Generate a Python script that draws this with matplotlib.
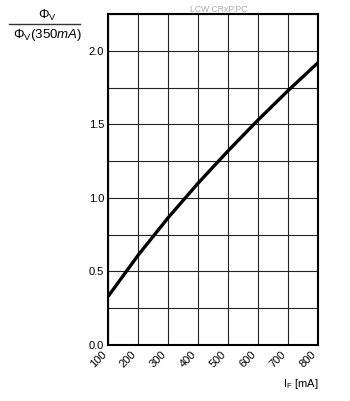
import matplotlib
matplotlib.use("Agg")
import matplotlib.pyplot as plt
import numpy as np

plt.rcParams['font.family'] = ['Liberation Sans', 'DejaVu Sans']
plt.rcParams['mathtext.fontset'] = 'custom'
plt.rcParams['mathtext.rm'] = 'Liberation Sans'
plt.rcParams['mathtext.it'] = 'Liberation Sans:italic'

current_mA = [100, 200, 300, 400, 500, 600, 700, 800]
rel_flux = [0.33, 0.61, 0.865, 1.10, 1.32, 1.53, 1.73, 1.92]
x_ticks = [100, 200, 300, 400, 500, 600, 700, 800]
y_grid = [0.0, 0.25, 0.5, 0.75, 1.0, 1.25, 1.5, 1.75, 2.0, 2.25]
y_labels = [0.0, 0.5, 1.0, 1.5, 2.0]

fig = plt.figure(figsize=(3.5, 4.01), dpi=100)
ax = fig.add_axes([0.309, 0.140, 0.600, 0.825])

ax.plot(current_mA, rel_flux, color='black', lw=2.4, solid_capstyle='butt',
        solid_joinstyle='round', zorder=3)
ax.set_xlim(100, 800)
ax.set_ylim(0, 2.25)

ax.set_xticks(x_ticks)
ax.set_xticklabels([str(v) for v in x_ticks], rotation=45, ha='right', va='top', fontsize=8)
ax.set_yticks(y_labels)
ax.set_yticklabels([f"{v:.1f}" for v in y_labels], fontsize=8)
ax.set_yticks(y_grid, minor=True)
ax.tick_params(axis='both', which='both', length=0, pad=3)
ax.grid(True, which='both', color='#222222', lw=0.8)
ax.set_axisbelow(True)
for s in ax.spines.values():
    s.set_linewidth(1.5)

fig.text(0.625, 0.965, "LCW CRxP.PC", color='#aaaaaa', fontsize=6.2, ha='center', va='bottom')

# fractional y label
fig.text(0.135, 0.962, r"$\mathit{Φ}_\mathrm{V}$", fontsize=9.5, ha='center', va='center')
fig.add_artist(plt.Line2D([0.025, 0.228], [0.940, 0.940], color='#333333', lw=1.0,
                          transform=fig.transFigure))
fig.text(0.135, 0.913, r"$\mathit{Φ}_\mathrm{V}$(350$\mathit{mA}$)", fontsize=9.5,
         ha='center', va='center')

fig.text(0.86, 0.042, r"I$_\mathrm{F}$ [mA]", fontsize=8, ha='center', va='center')

fig.savefig("out.png", dpi=100)
